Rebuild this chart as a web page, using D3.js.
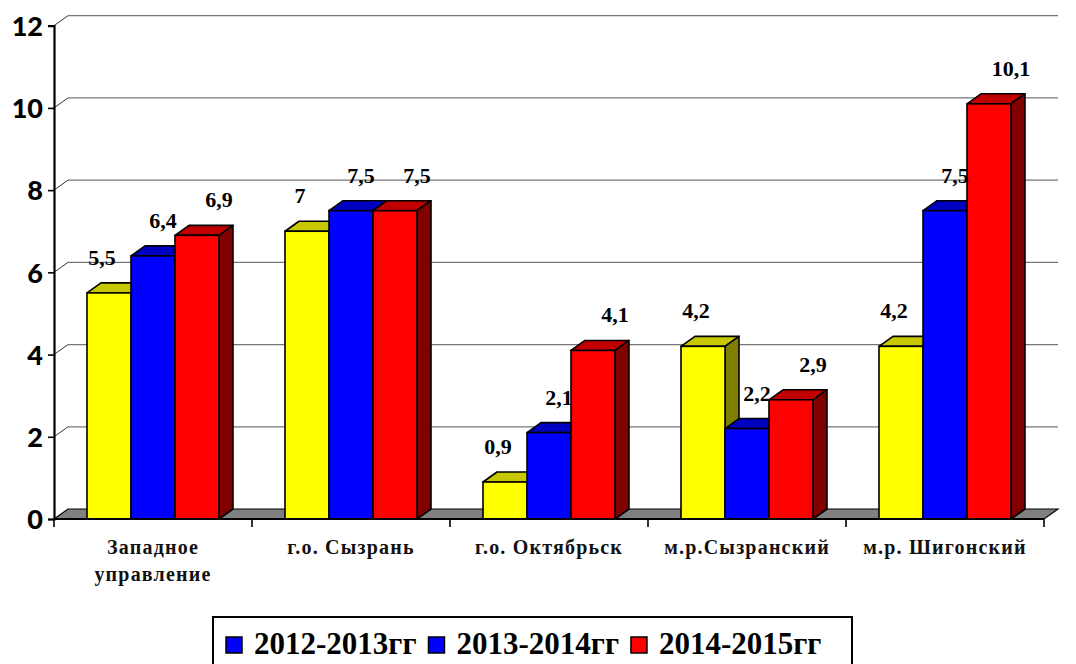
<!DOCTYPE html>
<html>
<head>
<meta charset="utf-8">
<script src="https://cdn.jsdelivr.net/npm/d3@7"></script>
<style>
  body { margin: 0; background: #fff; }
  svg { display: block; }
</style>
</head>
<body>
<svg width="1076" height="664"></svg>
<script>
// chart data
var categories = ['Западное\nуправление', 'г.о. Сызрань', 'г.о. Октябрьск', 'м.р.Сызранский', 'м.р. Шигонский'];
var seriesNames = ['2012-2013гг', '2013-2014гг', '2014-2015гг'];
var values2012 = [5.5, 7, 0.9, 4.2, 4.2];
var values2013 = [6.4, 7.5, 2.1, 2.2, 7.5];
var values2014 = [6.9, 7.5, 4.1, 2.9, 10.1];
var yTicks = [0, 2, 4, 6, 8, 10, 12];

// colours: front, top, side for each series; legend swatches as in the original
var frontColors = ['#ffff00', '#0000ff', '#ff0000'];
var topColors = ['#c8c800', '#0000c0', '#c00000'];
var sideColors = ['#808000', '#000080', '#800000'];
var legendColors = ['#0000ff', '#0000ff', '#ff0000'];

var allValues = [values2012, values2013, values2014];

var svg = d3.select('svg');

// plot area (front plane) and depth offset of the 3d walls
var plot = {l: 54, r: 1044, t: 25.7, b: 519};
var DX = 14, DY = -10;

var y = d3.scaleLinear().domain([0, 12]).range([plot.b, plot.t]);
var x0 = d3.scaleBand().domain(categories).range([plot.l, plot.r]);
var groupW = 132;
var x1 = d3.scaleBand().domain(seriesNames)
    .range([(x0.bandwidth() - groupW) / 2, (x0.bandwidth() + groupW) / 2]);

// back wall grid lines + side wall diagonals
var grid = svg.append('g');
yTicks.filter(function(d) { return d > 0; }).forEach(function(t) {
    grid.append('line')
        .attr('x1', plot.l).attr('y1', y(t))
        .attr('x2', plot.l + DX).attr('y2', y(t) + DY)
        .attr('stroke', '#333').attr('stroke-width', 1);
    grid.append('line')
        .attr('x1', plot.l + DX).attr('y1', y(t) + DY)
        .attr('x2', plot.r + DX).attr('y2', y(t) + DY)
        .attr('stroke', '#777').attr('stroke-width', 1.2);
});

// floor
svg.append('path')
    .attr('d', 'M' + [plot.l, plot.b] + 'L' + [plot.l + DX, plot.b + DY] +
        'L' + [plot.r + DX, plot.b + DY] + 'L' + [plot.r, plot.b] + 'Z')
    .attr('fill', '#808080')
    .attr('stroke', '#000').attr('stroke-width', 1.2);

// bars, drawn left to right so each front face hides the previous side face
var bars = svg.append('g');
categories.forEach(function(cat, ci) {
    seriesNames.forEach(function(s, si) {
        var v = allValues[si][ci];
        var bx = x0(cat) + x1(s);
        var bw = x1.bandwidth();
        var top = y(v), bot = y(0);
        var g = bars.append('g');
        // top face
        g.append('path')
            .attr('d', 'M' + [bx, top] + 'L' + [bx + DX, top + DY] + 'L' + [bx + bw + DX, top + DY] +
                'L' + [bx + bw, top] + 'Z')
            .attr('fill', topColors[si]);
        // side face
        g.append('path')
            .attr('d', 'M' + [bx + bw, top] + 'L' + [bx + bw + DX, top + DY] + 'L' + [bx + bw + DX, bot + DY] +
                'L' + [bx + bw, bot] + 'Z')
            .attr('fill', sideColors[si]);
        g.selectAll('path')
            .attr('stroke', '#000').attr('stroke-width', 1.6).attr('stroke-linejoin', 'round');
        // front face
        g.append('rect')
            .attr('x', bx).attr('y', top)
            .attr('width', bw).attr('height', bot - top)
            .attr('fill', frontColors[si])
            .attr('stroke', '#000').attr('stroke-width', 1.6);
    });
});

// value labels
var labelDx = [-7, 10, 22];
var labels = svg.append('g')
    .style('font-family', '"Liberation Serif", "Times New Roman", serif')
    .style('font-weight', 'bold')
    .style('font-size', '22px')
    .attr('text-anchor', 'middle');
categories.forEach(function(cat, ci) {
    seriesNames.forEach(function(s, si) {
        var v = allValues[si][ci];
        labels.append('text')
            .attr('x', x0(cat) + x1(s) + x1.bandwidth() / 2 + labelDx[si])
            .attr('y', y(v) - 28)
            .text(String(v).replace('.', ','));
    });
});

// y axis
var yAxis = d3.axisLeft(y).tickValues(yTicks).tickSize(6).tickPadding(5).tickFormat(d3.format('d'));
var yG = svg.append('g')
    .attr('transform', 'translate(' + plot.l + ',0)')
    .call(yAxis);
yG.select('.domain').attr('stroke', '#000').attr('stroke-width', 2.2);
yG.selectAll('.tick line').attr('stroke', '#000').attr('stroke-width', 1.6);
yG.selectAll('.tick text')
    .style('font-family', 'Lato, "Open Sans", sans-serif')
    .style('font-weight', '900')
    .style('font-size', '27px')
    .attr('dy', '0.36em')
    .attr('fill', '#000');

// x axis line with ticks at category boundaries
var xG = svg.append('g');
xG.append('line')
    .attr('x1', plot.l).attr('x2', plot.r)
    .attr('y1', plot.b).attr('y2', plot.b)
    .attr('stroke', '#000').attr('stroke-width', 2.2);
var bounds = categories.map(function(c) { return x0(c); }).concat([plot.r]);
xG.selectAll('.xtick')
    .data(bounds)
    .enter()
    .append('line')
    .attr('x1', function(d) { return d; }).attr('x2', function(d) { return d; })
    .attr('y1', plot.b).attr('y2', plot.b + 8)
    .attr('stroke', '#000').attr('stroke-width', 1.6);

// category labels
var catText = xG.selectAll('.cat')
    .data(categories)
    .enter()
    .append('text')
    .attr('text-anchor', 'middle')
    .style('font-family', '"Liberation Serif", "Times New Roman", serif')
    .style('font-weight', 'bold')
    .style('font-size', '20px')
    .style('letter-spacing', '1.2px')
    .attr('fill', '#111');
catText.each(function(d) {
    var t = d3.select(this);
    d.split('\n').forEach(function(line, i) {
        t.append('tspan')
            .attr('x', x0(d) + x0.bandwidth() / 2)
            .attr('y', 554 + i * 27)
            .text(line);
    });
});

// legend
var legend = svg.append('g');
legend.append('rect')
    .attr('x', 213).attr('y', 617)
    .attr('width', 639).attr('height', 60)
    .attr('fill', '#fff')
    .attr('stroke', '#000').attr('stroke-width', 2);
var lx = 226;
seriesNames.forEach(function(s, i) {
    legend.append('rect')
        .attr('x', lx).attr('y', 637)
        .attr('width', 16).attr('height', 16)
        .attr('fill', legendColors[i])
        .attr('stroke', '#000').attr('stroke-width', 1.5);
    var t = legend.append('text')
        .attr('x', lx + 28).attr('y', 654)
        .style('font-family', '"Liberation Serif", "Times New Roman", serif')
        .style('font-weight', 'bold')
        .style('font-size', '31px')
        .text(s);
    lx = lx + 28 + t.node().getComputedTextLength() + 12;
});
</script>
</body>
</html>
